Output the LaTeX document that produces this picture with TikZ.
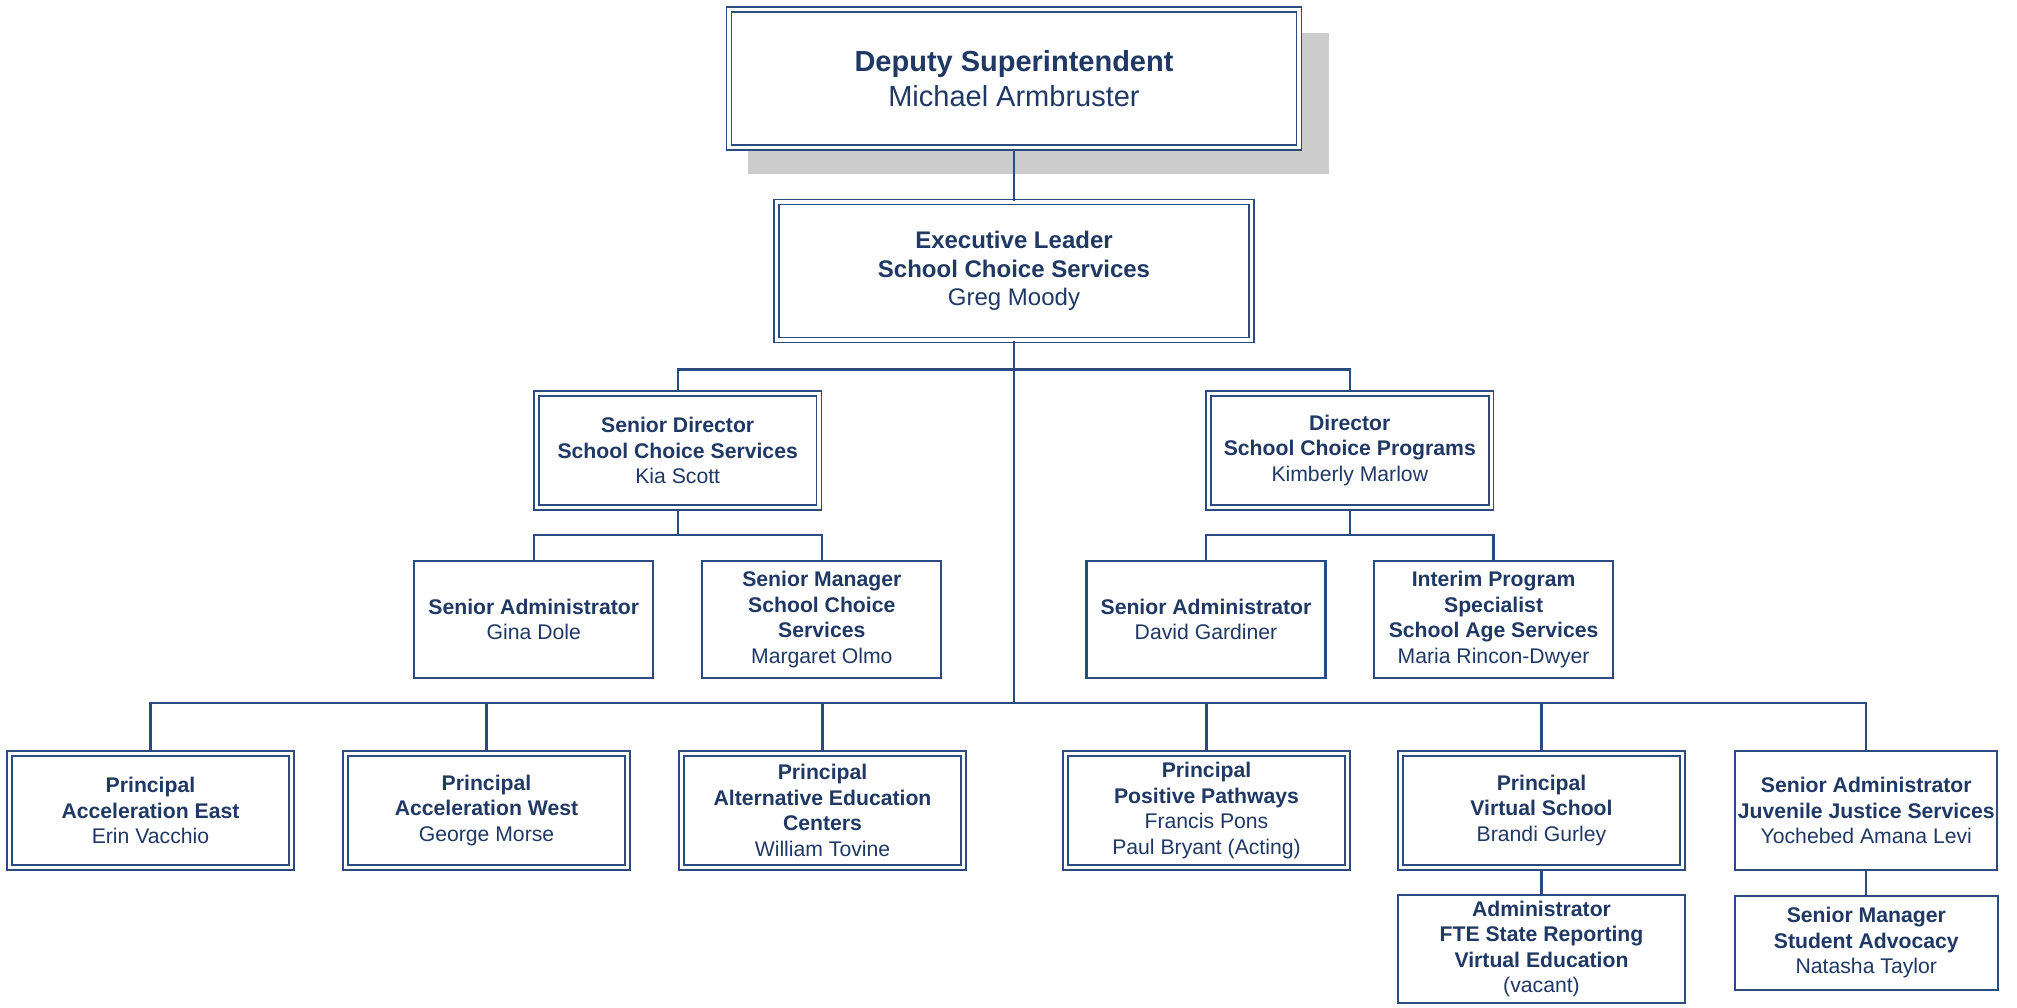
\documentclass[tikz,border=0pt]{standalone}
\usepackage{fontspec}
\setmainfont{Liberation Sans}
\usepackage{tikz}
\usetikzlibrary{shadows}

\definecolor{orgtext}{HTML}{1F3864}
\definecolor{orgline}{HTML}{2B4A80}
\definecolor{shadowgray}{HTML}{CCCCCC}

\newcommand{\topfont}{\fontsize{16.5pt}{19.9pt}\selectfont}
\newcommand{\execfont}{\fontsize{13.66pt}{16.1pt}\selectfont}
\newcommand{\unitfont}{\fontsize{12.06pt}{14.5pt}\selectfont}

\begin{document}
\begin{tikzpicture}[node distance=6.72cm,
    post/.style={rectangle,draw=orgline,double=white,line width=0.036cm,
        double distance=0.062cm,fill=white,text=orgtext,align=center,
        inner sep=1pt,font=\unitfont,minimum width=5.63cm,minimum height=2.29cm},
    staff/.style={rectangle,draw=orgline,line width=0.045cm,fill=white,
        text=orgtext,align=center,inner sep=1pt,font=\unitfont,
        minimum width=4.78cm,minimum height=2.34cm},
    link/.style={draw=orgline,line width=0.045cm}]
        \useasboundingbox (0,0) rectangle (40.34,-20.16);

        \node[post,font=\topfont,minimum width=11.4cm,minimum height=2.77cm,
            drop shadow={shadow xshift=0.48cm,shadow yshift=-0.49cm,
            shadow scale=1.02,fill=shadowgray,opacity=1}]
            (dep) at (20.28,-1.57) {\textbf{Deputy Superintendent}\\Michael Armbruster};
        \node[post,font=\execfont,minimum width=9.49cm,minimum height=2.76cm]
            (exec) [below of=dep,node distance=3.85cm]
            {\textbf{Executive Leader}\\\textbf{School Choice Services}\\Greg Moody};

        %% second level
        \node[post,minimum width=5.65cm] (sdir) at (13.554,-9.01)
            {\textbf{Senior Director}\\\textbf{School Choice Services}\\Kia Scott};
        \node[post,minimum width=5.65cm] (dir) [right of=sdir,node distance=13.442cm]
            {\textbf{Director}\\\textbf{School Choice Programs}\\Kimberly Marlow};

        \node[staff] (gina) at (10.676,-12.39) {\textbf{Senior Administrator}\\Gina Dole};
        \node[staff] (smgr) [right of=gina,node distance=5.76cm]
            {\textbf{Senior Manager}\\\textbf{School Choice}\\\textbf{Services}\\Margaret Olmo};
        \node[staff] (david) at (24.12,-12.39) {\textbf{Senior Administrator}\\David Gardiner};
        \node[staff] (interim) [right of=david,node distance=5.752cm]
            {\textbf{Interim Program}\\\textbf{Specialist}\\\textbf{School Age Services}\\Maria Rincon-Dwyer};

        %% schools
        \node[post] (east) at (3.01,-16.21)
            {\textbf{Principal}\\\textbf{Acceleration East}\\Erin Vacchio};
        \node[post] (west) [right of=east]
            {\textbf{Principal}\\\textbf{Acceleration West}\\George Morse};
        \node[post] (alted) [right of=west]
            {\textbf{Principal}\\\textbf{Alternative Education}\\\textbf{Centers}\\William Tovine};
        \node[post] (pos) at (24.13,-16.21)
            {\textbf{Principal}\\\textbf{Positive Pathways}\\Francis Pons\\Paul Bryant (Acting)};
        \node[post] (virt) [right of=pos,node distance=6.7cm]
            {\textbf{Principal}\\\textbf{Virtual School}\\Brandi Gurley};
        \node[staff,minimum width=5.24cm,minimum height=2.38cm] (juv) at (37.326,-16.21)
            {\textbf{Senior Administrator}\\\textbf{Juvenile Justice Services}\\Yochebed Amana Levi};

        \node[staff,minimum width=5.74cm,minimum height=2.16cm] (fte)
            [below of=virt,node distance=2.77cm]
            {\textbf{Administrator}\\\textbf{FTE State Reporting}\\\textbf{Virtual Education}\\(vacant)};
        \node[staff,minimum width=5.26cm,minimum height=1.88cm] (adv)
            [below of=juv,node distance=2.65cm]
            {\textbf{Senior Manager}\\\textbf{Student Advocacy}\\Natasha Taylor};

        %% lines
        \coordinate (hub) at ([yshift=0.99cm]east.north);
        \draw[link] (dep.south) -- (exec.north);
        \draw[link] (exec.south) -- (exec.south |- hub);
        \draw[link] (sdir.north) -- ++(0,0.455) -| (dir.north);
        \draw[link] (sdir.south) -- ++(0,-0.52) coordinate (sbar) -| (gina.north)
            (sbar) -| (smgr.north);
        \draw[link] (dir.south) -- ++(0,-0.52) coordinate (dbar) -| (david.north)
            (dbar) -| (interim.north);
        \draw[link] (east.north) -- (hub) -| (juv.north);
        \draw[link] (west.north) -- (west.north |- hub);
        \draw[link] (alted.north) -- (alted.north |- hub);
        \draw[link] (pos.north) -- (pos.north |- hub);
        \draw[link] (virt.north) -- (virt.north |- hub);
        \draw[link] (virt.south) -- (fte.north);
        \draw[link] (juv.south) -- (adv.north);
    \end{tikzpicture}
\end{document}
